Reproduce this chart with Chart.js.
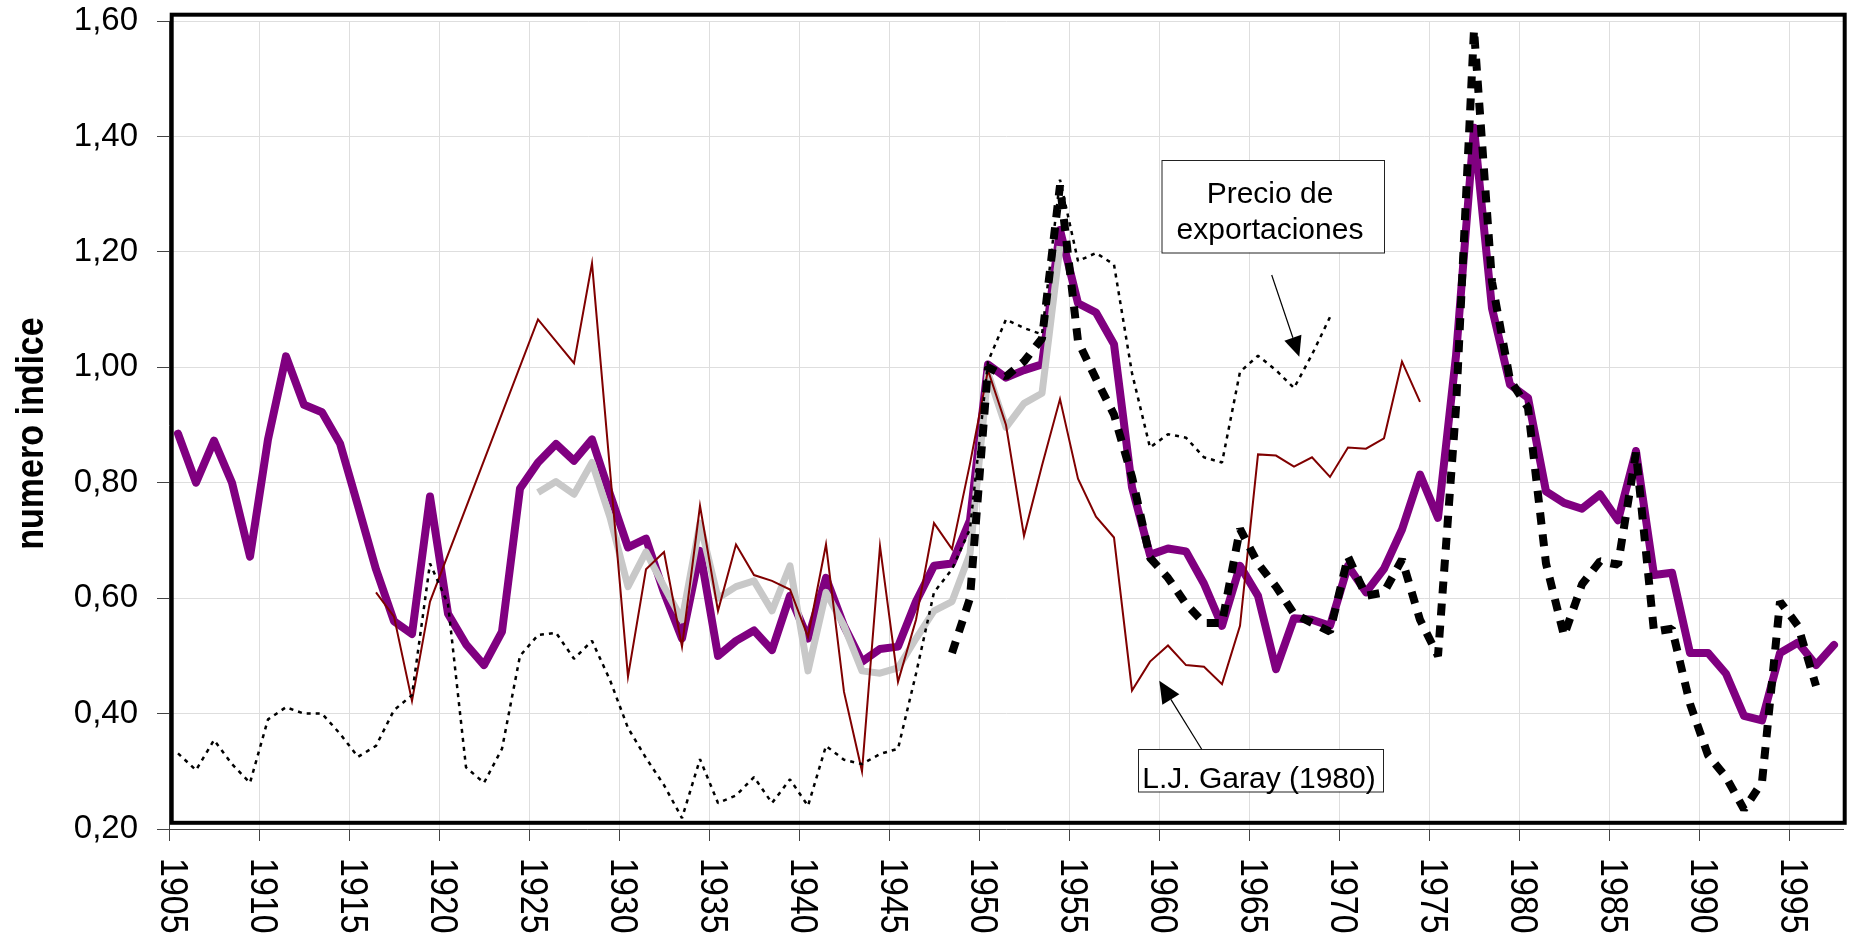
<!DOCTYPE html>
<html>
<head>
<meta charset="utf-8">
<title>numero indice 1905-1997</title>
<script src="https://cdn.jsdelivr.net/npm/chart.js@4.4.1/dist/chart.umd.min.js"></script>
<style>
  html, body { margin: 0; padding: 0; background: #fff; }
  #wrap { width: 1854px; height: 943px; }
</style>
</head>
<body>
<div id="wrap"><canvas id="chart" width="1854" height="943"></canvas></div>
<script>
// categories: one per year, 1905..1997
const years = [];
for (let y = 1905; y <= 1997; y++) years.push(y);

// y axis ticks
const yTicks = [0.2, 0.4, 0.6, 0.8, 1.0, 1.2, 1.4, 1.6];

// thick purple series, 1905-1997
const purple = [
  0.885, 0.80, 0.873, 0.80, 0.672, 0.875, 1.019, 0.935, 0.922, 0.868,   // 1905-1914
  0.76, 0.65, 0.56, 0.538, 0.776, 0.573, 0.52, 0.484, 0.542, 0.79,       // 1915-1924
  0.835, 0.867, 0.838, 0.875, 0.78, 0.688, 0.703, 0.61, 0.53, 0.682,     // 1925-1934
  0.50, 0.526, 0.544, 0.51, 0.604, 0.53, 0.635, 0.552, 0.49, 0.512,      // 1935-1944
  0.516, 0.594, 0.656, 0.66, 0.735, 1.005, 0.982, 0.995, 1.005, 1.238,   // 1945-1954
  1.111, 1.095, 1.04, 0.792, 0.675, 0.686, 0.681, 0.625, 0.552, 0.656,   // 1955-1964
  0.604, 0.477, 0.565, 0.5625, 0.552, 0.656, 0.61, 0.651, 0.719, 0.814,  // 1965-1974
  0.739, 1.02, 1.415, 1.102, 0.97, 0.947, 0.785, 0.765, 0.755, 0.78,     // 1975-1984
  0.735, 0.855, 0.64, 0.644, 0.505, 0.505, 0.469, 0.396, 0.388, 0.505,   // 1985-1994
  0.523, 0.484, 0.519                                                     // 1995-1997
];

// light grey series, 1925-1954
const grey = [
  null, null, null, null, null, null, null, null, null, null,
  null, null, null, null, null, null, null, null, null, null,
  0.783, 0.802, 0.78, 0.835, 0.74, 0.62, 0.68, 0.62, 0.5625, 0.73,
  0.60, 0.62, 0.63, 0.578, 0.656, 0.474, 0.61, 0.552, 0.474, 0.47,
  0.479, 0.53, 0.578, 0.594, 0.677, 0.99, 0.896, 0.9375, 0.955, 1.21
];

// thin dark red series (L.J. Garay 1980), 1916-1974, some years missing
const garay = [
  null, null, null, null, null, null, null, null, null, null,
  null, 0.61, 0.568, 0.422, 0.594, null, null, null, null, null,
  1.083, null, 1.007, 1.18, null, 0.464, 0.65, 0.68, 0.516, 0.76,
  0.578, 0.693, 0.64, 0.63, 0.615, 0.533, 0.693, 0.4375, 0.30, 0.69,
  0.455, 0.5625, 0.73, 0.685, 0.833, 0.995, 0.90, 0.708, 0.83, 0.945,
  0.807, 0.741, 0.705, 0.44, 0.49, 0.518, 0.484, 0.481, 0.451, 0.552,
  0.849, 0.847, 0.828, 0.844, 0.81, 0.861, 0.859, 0.877, 1.01, 0.94
];

// thin dotted black series (precio de exportaciones), 1905-1969
const exportaciones = [
  0.331, 0.302, 0.354, 0.3125, 0.28, 0.39, 0.411, 0.40, 0.40, 0.365,
  0.325, 0.344, 0.406, 0.432, 0.66, 0.59, 0.307, 0.28, 0.339, 0.50,
  0.536, 0.54, 0.495, 0.526, 0.458, 0.375, 0.323, 0.276, 0.219, 0.321,
  0.245, 0.258, 0.29, 0.245, 0.286, 0.24, 0.344, 0.32, 0.3125, 0.33,
  0.339, 0.469, 0.61, 0.65, 0.72, 1.01, 1.083, 1.068, 1.057, 1.325,
  1.184, 1.198, 1.178, 0.99, 0.861, 0.884, 0.878, 0.844, 0.835, 0.992,
  1.02, 0.995, 0.964, 1.022, 1.087
];

// thick dashed black series, 1948-1996
const dashed = [
  null, null, null, null, null, null, null, null, null, null,
  null, null, null, null, null, null, null, null, null, null,
  null, null, null, null, null, null, null, null, null, null,
  null, null, null, null, null, null, null, null, null, null,
  null, null, null, 0.505, 0.60, 1.00, 0.984, 1.01, 1.05, 1.315,
  1.045, 0.98, 0.918, 0.81, 0.67, 0.635, 0.59, 0.557, 0.557, 0.72,
  0.66, 0.62, 0.573, 0.557, 0.542, 0.672, 0.604, 0.61, 0.667, 0.5625,
  0.50, 0.93, 1.585, 1.148, 0.978, 0.93, 0.66, 0.535, 0.624, 0.664,
  0.658, 0.852, 0.542, 0.547, 0.417, 0.328, 0.29, 0.234, 0.281, 0.594,
  0.552, 0.448
];

const FONT = '"Liberation Sans", Arial, sans-serif';

function arrow(ctx, x1, y1, x2, y2, len, half) {
  const dx = x2 - x1, dy = y2 - y1;
  const d = Math.hypot(dx, dy);
  const ux = dx / d, uy = dy / d;
  const bx = x2 - ux * len, by = y2 - uy * len;
  ctx.beginPath();
  ctx.moveTo(x1, y1);
  ctx.lineTo(bx, by);
  ctx.stroke();
  ctx.beginPath();
  ctx.moveTo(x2, y2);
  ctx.lineTo(bx - uy * half, by + ux * half);
  ctx.lineTo(bx + uy * half, by - ux * half);
  ctx.closePath();
  ctx.fill();
}

function noteBox(ctx, left, top, right, bottom, lines, cx, baselines) {
  ctx.fillStyle = '#fff';
  ctx.fillRect(left, top, right - left, bottom - top);
  ctx.strokeStyle = '#222';
  ctx.lineWidth = 1;
  ctx.strokeRect(left + 0.5, top + 0.5, right - left, bottom - top);
  ctx.fillStyle = '#000';
  ctx.font = '30px ' + FONT;
  ctx.textAlign = 'center';
  ctx.textBaseline = 'alphabetic';
  lines.forEach((t, i) => ctx.fillText(t, cx, baselines[i]));
}

const decor = {
  id: 'decor',
  beforeDatasetsDraw(chart) {
    const { ctx, chartArea: a } = chart;
    ctx.save();
    ctx.strokeStyle = '#000';
    ctx.lineWidth = 4;
    ctx.strokeRect(a.left + 2.7, a.top - 6.3, a.right - a.left - 1, a.bottom - a.top + 0.1);
    ctx.restore();
  },
  afterDraw(chart) {
    const { ctx } = chart;
    const x = chart.scales.x;

    // year labels, turned to read top to bottom
    ctx.save();
    ctx.fillStyle = '#000';
    ctx.font = '34px ' + FONT;
    ctx.textAlign = 'left';
    ctx.textBaseline = 'alphabetic';
    years.forEach((yr, i) => {
      if (yr % 5 !== 0) return;
      const px = x.getPixelForValue(i - 0.5);
      ctx.save();
      ctx.translate(px - 7.8, 858);
      ctx.rotate(Math.PI / 2);
      ctx.scale(1, 1.15);
      ctx.fillText(String(yr), 0, 0);
      ctx.restore();
    });
    ctx.restore();

    // y axis title
    ctx.save();
    ctx.fillStyle = '#000';
    ctx.font = 'bold 34px ' + FONT;
    ctx.textAlign = 'center';
    ctx.translate(43.3, 433.5);
    ctx.rotate(-Math.PI / 2);
    ctx.scale(1, 1.15);
    ctx.fillText('numero indice', 0, 0);
    ctx.restore();

    // notes with arrows
    ctx.save();
    noteBox(ctx, 1161.5, 160, 1384, 252.5, ['Precio de', 'exportaciones'], 1270, [203.3, 239.3]);
    noteBox(ctx, 1138, 749, 1383, 791.5, ['L.J. Garay (1980)'], 1259, [788]);
    ctx.strokeStyle = '#000';
    ctx.fillStyle = '#000';
    ctx.lineWidth = 1.2;
    arrow(ctx, 1271.7, 275, 1299.3, 356.7, 20, 9);
    arrow(ctx, 1201.7, 749.3, 1159.3, 680.7, 22, 10);
    ctx.restore();
  }
};

const line = (data, color, width, extra) => Object.assign({
  data: data,
  borderColor: color,
  backgroundColor: color,
  borderWidth: width,
  pointRadius: 0,
  pointHoverRadius: 0,
  tension: 0,
  fill: false
}, extra);

new Chart(document.getElementById('chart'), {
  type: 'line',
  data: {
    labels: years.map(String),
    datasets: [
      line(purple, '#800080', 8, { label: 'indice', order: 5, borderJoinStyle: 'round', borderCapStyle: 'round' }),
      line(grey, '#c8c8c8', 7, { label: 'gris', order: 4, borderJoinStyle: 'round' }),
      line(garay, '#800000', 2, { label: 'L.J. Garay (1980)', order: 3, spanGaps: true }),
      line(dashed, '#000000', 8, { label: 'discontinua', order: 2, borderDash: [12, 10], borderJoinStyle: 'bevel' }),
      line(exportaciones, '#000000', 2.5, { label: 'Precio de exportaciones', order: 1, borderDash: [4, 5], borderJoinStyle: 'bevel' })
    ]
  },
  options: {
    responsive: false,
    devicePixelRatio: 1,
    animation: false,
    events: [],
    layout: { padding: { left: 0, top: 21, right: 11, bottom: 0 } },
    plugins: { legend: { display: false }, tooltip: { enabled: false } },
    scales: {
      x: {
        type: 'category',
        offset: true,
        grid: {
          offset: true,
          drawTicks: true,
          tickLength: 12,
          lineWidth: 1,
          color: ctx => (years[ctx.index] % 5 === 0 ? '#dedede' : 'rgba(0,0,0,0)'),
          tickColor: ctx => (years[ctx.index] % 5 === 0 ? '#444' : 'rgba(0,0,0,0)')
        },
        border: { display: true, color: '#444', width: 1 },
        ticks: { display: false },
        afterFit: s => { s.height = 114; s.paddingLeft = 0; s.paddingRight = 0; }
      },
      y: {
        type: 'linear',
        min: yTicks[0],
        max: yTicks[yTicks.length - 1],
        afterBuildTicks: s => { s.ticks = yTicks.map(v => ({ value: v })); },
        grid: { color: '#dedede', lineWidth: 1, tickLength: 12, tickColor: '#444' },
        border: { display: true, color: '#444', width: 1 },
        ticks: {
          padding: 19,
          color: '#000',
          font: { family: FONT, size: 33 },
          callback: v => v.toFixed(2).replace('.', ',')
        },
        afterFit: s => { s.width = 169; s.paddingTop = 0; s.paddingBottom = 0; }
      }
    }
  },
  plugins: [decor]
});
</script>
</body>
</html>
